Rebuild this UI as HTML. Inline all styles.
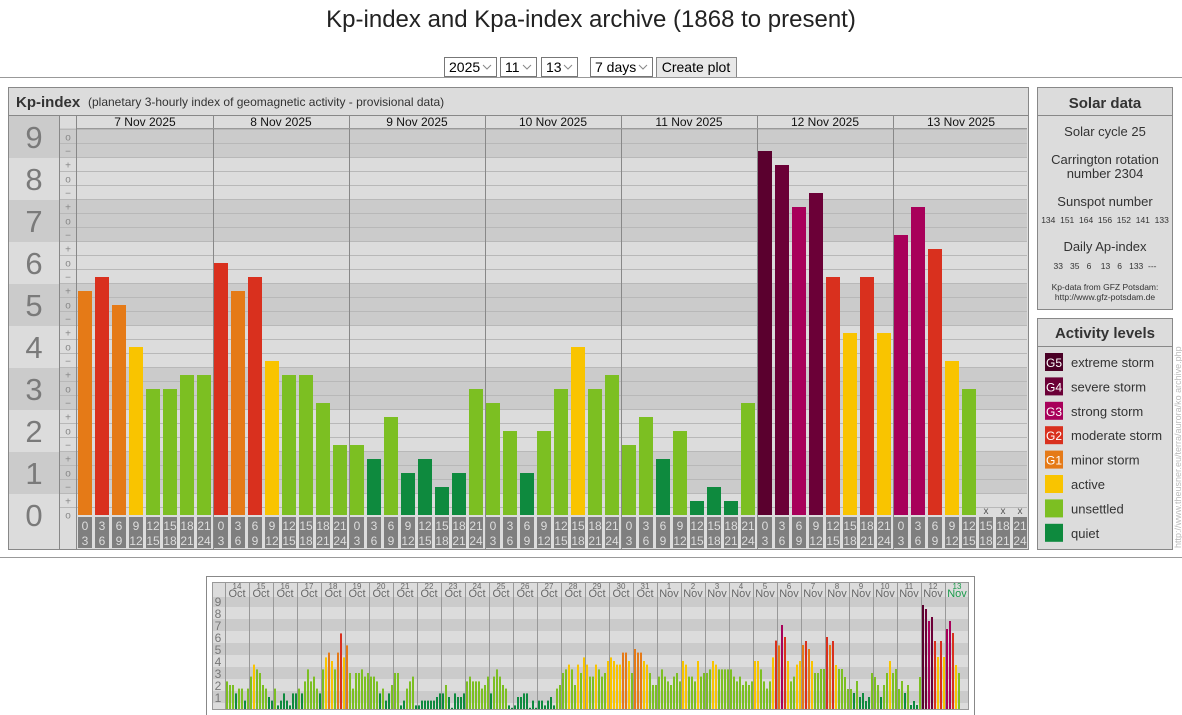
<!DOCTYPE html>
<html><head><meta charset="utf-8"><style>
html,body{margin:0;padding:0;background:#fff;width:1182px;height:715px;overflow:hidden}
svg{display:block;font-family:"Liberation Sans",Arial,sans-serif}
</style></head><body>
<svg id="s" width="1182" height="715" viewBox="0 0 1182 715" xmlns="http://www.w3.org/2000/svg"></svg>
<script>
var o=[];
function R(x,y,w,h,f,st){o.push('<rect x="'+x+'" y="'+y+'" width="'+w+'" height="'+h+'" fill="'+f+'"'+(st?' stroke="'+st+'"':'')+'/>');}
function L(x1,y1,x2,y2,c){o.push('<line x1="'+x1+'" y1="'+y1+'" x2="'+x2+'" y2="'+y2+'" stroke="'+c+'" stroke-width="1"/>');}
function T(x,y,s,sz,c,a,w){o.push('<text x="'+x+'" y="'+y+'" font-size="'+sz+'" fill="'+c+'" text-anchor="'+(a||'start')+'"'+(w?' font-weight="bold"':'')+'>'+s+'</text>');}
var COL=['#0e8a3e','#0e8a3e','#7cbf22','#7cbf22','#f9c400','#e57a17','#d9301e','#a8005a','#6b0037','#5a002e'];
T(591,27,'Kp-index and Kpa-index archive (1868 to present)',24,'#222','middle');
function sel(x,w,t){R(x+.5,57.5,w,19,'#fff','#777');T(x+5,72,t,14,'#000');o.push('<path d="M'+(x+w-13)+' 65 l4 4 l4 -4" fill="none" stroke="#888"/>');}
sel(444,52,'2025');sel(500,36,'11');sel(541,36,'13');sel(590,62,'7 days');
R(656.5,57.5,80,20,'#e8e8e8','#888');T(696,72,'Create plot',14,'#000','middle');
L(0,77.5,1182,77.5,'#999');L(0,557.5,1182,557.5,'#999');
R(8.5,87.5,1020,462,'#dcdcdc','#888');
T(16,107,'Kp-index',15,'#333','start',1);T(88,106,'(planetary 3-hourly index of geomagnetic activity - provisional data)',12,'#333');
L(9,115.5,1028,115.5,'#888');
function by(v){return 515-42*v;}
for(var n=0;n<=9;n++){var y1=Math.max(by(n+0.5),128),y2=Math.min(by(n-0.5),515);var c=(n%2)?'#cbcbcb':'#dcdcdc';
 R(77,y1,950,y2-y1,c);R(59,y1,18,y2-y1,c);
 var ly1=n==9?116:y1,ly2=n==0?549:y2;R(9,ly1,50,ly2-ly1,c);
 T(34,515-42*n+11,n,31,'#7a7a7a','middle');}
for(var j=0;j<=27;j++){L(59,129.5+14*j,1027,129.5+14*j,'#b8b8b8');}
for(var k=0;k<=27;k++){var s=k%3==0?'o':(k%3==1?'+':'−');T(68,515-14*k+3.5,s,10,'#888','middle');}
L(59.5,116,59.5,549,'#888');L(76.5,116,76.5,549,'#888');
var days=['7 Nov 2025','8 Nov 2025','9 Nov 2025','10 Nov 2025','11 Nov 2025','12 Nov 2025','13 Nov 2025'];
var D=[[16,17,15,12,9,9,10,10],[18,16,17,11,10,10,8,5],[5,4,7,3,4,2,3,9],[8,6,3,6,9,12,9,10],[5,7,4,6,1,2,1,8],[26,25,22,23,17,13,17,13],[20,22,19,11,9,-1,-1,-1]];
for(var d=0;d<7;d++){var x0=77+136*d;
 T(x0+68,126,days[d],12,'#111','middle');
 if(d>0)L(x0+.5,116,x0+.5,549,'#888');
 for(var i=0;i<8;i++){var bx=x0+1+17*i,k=D[d][i];
  if(k>=0)R(bx,515-14*k,14,14*k,COL[Math.round(k/3)]);else T(bx+7,514,'x',10,'#555','middle');
  R(bx,517,14,31,'#7f7f7f');T(bx+7,530,3*i,12,'#ddd','middle');T(bx+7,545,3*i+3,12,'#ddd','middle');
 }}
L(77,115.5,1028,115.5,'#888');L(77,128.5,1027,128.5,'#999');
R(1037.5,87.5,135,222,'#dcdcdc','#888');L(1038,115.5,1173,115.5,'#888');
T(1105,108,'Solar data',15,'#333','middle',1);
T(1105,136,'Solar cycle 25',13,'#333','middle');
T(1105,164,'Carrington rotation',13,'#333','middle');T(1105,178,'number 2304',13,'#333','middle');
T(1105,206,'Sunspot number',13,'#333','middle');
T(1105,223,'134&#160;&#160;151&#160;&#160;164&#160;&#160;156&#160;&#160;152&#160;&#160;141&#160;&#160;133',8.5,'#333','middle');
T(1105,251,'Daily Ap-index',13,'#333','middle');
T(1105,269,'33&#160;&#160;&#160;35&#160;&#160;&#160;6&#160;&#160;&#160;&#160;13&#160;&#160;&#160;6&#160;&#160;&#160;133&#160;&#160;---',8.5,'#333','middle');
T(1105,290,'Kp-data from GFZ Potsdam:',8.5,'#333','middle');T(1105,300,'http://www.gfz-potsdam.de',8.5,'#333','middle');
R(1037.5,318.5,135,231,'#dcdcdc','#888');L(1038,346.5,1173,346.5,'#888');
T(1105,338,'Activity levels',15,'#333','middle',1);
var lg=[['G5','extreme storm','#4a0026'],['G4','severe storm','#6b0037'],['G3','strong storm','#a8005a'],['G2','moderate storm','#d9301e'],['G1','minor storm','#e57a17'],['','active','#f9c400'],['','unsettled','#7cbf22'],['','quiet','#0e8a3e']];
for(var i=0;i<8;i++){var y=353+24.4*i;R(1045,y,18,18,lg[i][2]);if(lg[i][0])T(1054,y+14,lg[i][0],12,'#fff','middle');T(1071,y+14,lg[i][1],13,'#333');}
o.push('<text transform="translate(1181,548) rotate(-90)" font-size="9" fill="#bbb">http://www.theusner.eu/terra/aurora/ko archive.php</text>');
R(206.5,576.5,768,145,'#fff','#888');
R(212,582,757,127,'#dcdcdc');
function my(v){return 709-12*v;}
for(var n=0;n<=9;n++){var y1=Math.max(my(n+0.5),597),y2=Math.min(my(n-0.5),709);R(212,y1,757,y2-y1,(n%2)?'#cbcbcb':'#dcdcdc');if(n>0)T(218,my(n)+5,n,12,'#777','middle');}
var M=[[2.3,2,2,1.3,1.7,1.7,.7,1.7],[2.7,3.7,3.3,3,2,1.7,1,.7],[1.7,.3,.7,1.3,.7,.3,1.3,1.3],[1.7,1.3,2.3,3.3,2.3,2.7,1.7,1.3],[3.3,4.3,4.7,4,3.3,4.7,6.3,4.3],[5.3,3,1.7,3,3,3.3,2.7,3],[2.7,2.7,2.3,1.3,1.7,.7,1.3,2],[3,3,.3,.7,1.7,2.3,2.7,.3],[.3,.7,.7,.7,.7,.7,1,1.3],[1.3,2,1,.1,1.3,1,1,1.3],[2.3,2.7,2.3,2.3,2.3,1.7,2,2.7],[1.3,2.7,3.3,2.7,2,1.7,.3,.1],[.3,1,1,1.3,1.3,.1,.7,.1],[.7,.7,.3,.7,1,.3,1.7,2],[3,3.3,3.7,3.3,2,3.7,3,4.3],[3.7,2.7,2.7,3.7,3.3,2.7,3,4],[4.3,4,3.7,3.7,4.7,4.7,4,3],[5,4.7,4.7,4,3.7,3,2,2],[2.7,3.3,2.7,2.3,2,2.7,3,2.3],[4,3.7,2.7,2.7,2.3,4,2.7,3],[3,3.3,4,3.7,3.3,3.3,3.3,3.3],[3.3,2.7,2.3,2.7,2,2.3,2,2.3],[4,4,3.3,2.3,1.7,2.3,4.3,5.7],[5.3,7,6,4,2.3,2.7,3.7,4]];
for(var d=0;d<7;d++)M.push(D[d].map(function(k){return k/3;}));
var dl=[];for(var i=14;i<=31;i++)dl.push([i,'Oct']);for(var i=1;i<=13;i++)dl.push([i,'Nov']);
for(var d=0;d<31;d++){var x0=225+24*d;
 L(x0+.5,582,x0+.5,709,'#999');
 var c=d==30?'#1a9a4a':'#666';T(x0+12,589,dl[d][0],8,c,'middle');T(x0+12,597,dl[d][1],11,c,'middle');
 for(var i=0;i<8;i++){var v=M[d][i];if(v<0)continue;var h=12*v;R(x0+1+3*i,709-h,2,h,COL[Math.round(v)]);}}
R(212.5,582.5,756,127,'none','#999');
document.getElementById('s').innerHTML=o.join('');
</script>
</body></html>
